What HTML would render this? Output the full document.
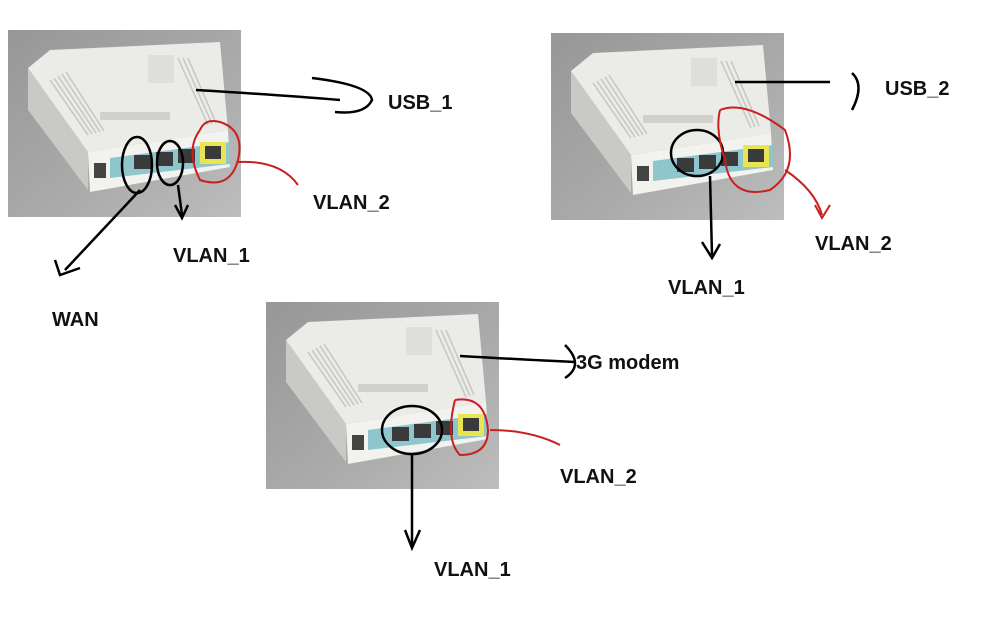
<!DOCTYPE html>
<html><head><meta charset="utf-8"><style>
html,body{margin:0;padding:0;background:#fff;width:983px;height:624px;overflow:hidden}
svg{display:block}
text{font-family:"Liberation Sans",sans-serif;font-weight:bold;font-size:20px;fill:#111}
</style></head><body>
<svg width="983" height="624" viewBox="0 0 983 624">
<defs>
<linearGradient id="bg" x1="0" y1="0" x2="1" y2="1">
<stop offset="0" stop-color="#979797"/><stop offset="0.6" stop-color="#ababab"/><stop offset="1" stop-color="#bdbdbd"/></linearGradient>
<g id="router">
<rect x="0" y="0" width="233" height="187" fill="url(#bg)"/>
<polygon points="20,80 20,38 80,122 80,160" fill="#c9c9c5"/>
<polygon points="20,38 42,20 212,12 220,100 80,122" fill="#ebebe8"/>
<polygon points="80,122 220,100 222,137 82,162" fill="#f2f2ef"/>
<g stroke="#c6c6c2" stroke-width="1.5">
<line x1="42" y1="50" x2="80" y2="105"/><line x1="46" y1="48" x2="84" y2="104"/><line x1="50" y1="46" x2="88" y2="103"/><line x1="54" y1="44" x2="92" y2="102"/><line x1="58" y1="42" x2="96" y2="101"/>
<line x1="170" y1="28" x2="200" y2="95"/><line x1="175" y1="28" x2="204" y2="94"/><line x1="180" y1="28" x2="208" y2="93"/>
</g>
<rect x="140" y="25" width="26" height="28" fill="#dededa"/>
<rect x="92" y="82" width="70" height="8" fill="#d0d0cc"/>
<polygon points="102,128 222,112 222,134 102,148" fill="#8fc5cc"/>
<rect x="86" y="133" width="12" height="15" fill="#444"/>
<rect x="126" y="125" width="17" height="14" fill="#3a3a3a"/><rect x="148" y="122" width="17" height="14" fill="#3a3a3a"/><rect x="170" y="119" width="17" height="14" fill="#3a3a3a"/>
<rect x="192" y="112" width="26" height="22" fill="#e8e452"/><rect x="197" y="116" width="16" height="13" fill="#3a3a3a"/>
</g>
</defs>
<use href="#router" x="8" y="30"/>
<use href="#router" x="551" y="33"/>
<use href="#router" x="266" y="302"/>
<g fill="none" stroke="#000" stroke-width="2.5">
<path d="M196 90 Q280 95 340 100"/><path d="M312 78 Q370 85 372 100 Q365 115 335 112"/>
<ellipse cx="137" cy="165" rx="15" ry="28"/><ellipse cx="170" cy="163" rx="13" ry="22"/>
<path d="M140 190 L65 270"/><path d="M55 260 L60 275 L80 268"/>
<path d="M178 185 L182 215"/><path d="M175 205 L182 218 L188 205"/>
<path d="M735 82 L830 82"/><path d="M852 73 Q865 85 852 110"/>
<ellipse cx="697" cy="153" rx="26" ry="23"/>
<path d="M710 176 L712 255"/><path d="M702 242 L712 258 L720 244"/>
<path d="M460 356 Q530 360 575 362"/><path d="M565 345 Q585 365 565 378"/>
<ellipse cx="412" cy="430" rx="30" ry="24"/>
<path d="M412 454 L412 545"/><path d="M405 530 L412 548 L420 530"/>
</g>
<g fill="none" stroke="#c82020" stroke-width="2">
<path d="M200 130 Q185 150 200 180 Q230 190 238 160 Q245 130 220 122 Q205 118 200 130"/>
<path d="M238 162 Q280 160 298 185"/>
<path d="M720 110 Q745 100 785 130 Q800 170 770 190 Q730 200 725 160 Q715 130 720 110"/>
<path d="M785 170 Q815 190 822 215 M815 205 L822 218 L830 205"/>
<path d="M455 400 Q485 395 488 430 Q488 455 460 455 Q445 440 455 400"/>
<path d="M490 430 Q530 430 560 445"/>
</g>
<text x="388" y="109">USB_1</text>
<text x="313" y="209">VLAN_2</text>
<text x="173" y="262">VLAN_1</text>
<text x="52" y="326">WAN</text>
<text x="885" y="95">USB_2</text>
<text x="815" y="250">VLAN_2</text>
<text x="668" y="294">VLAN_1</text>
<text x="576" y="369">3G modem</text>
<text x="560" y="483">VLAN_2</text>
<text x="434" y="576">VLAN_1</text>
</svg>
</body></html>
